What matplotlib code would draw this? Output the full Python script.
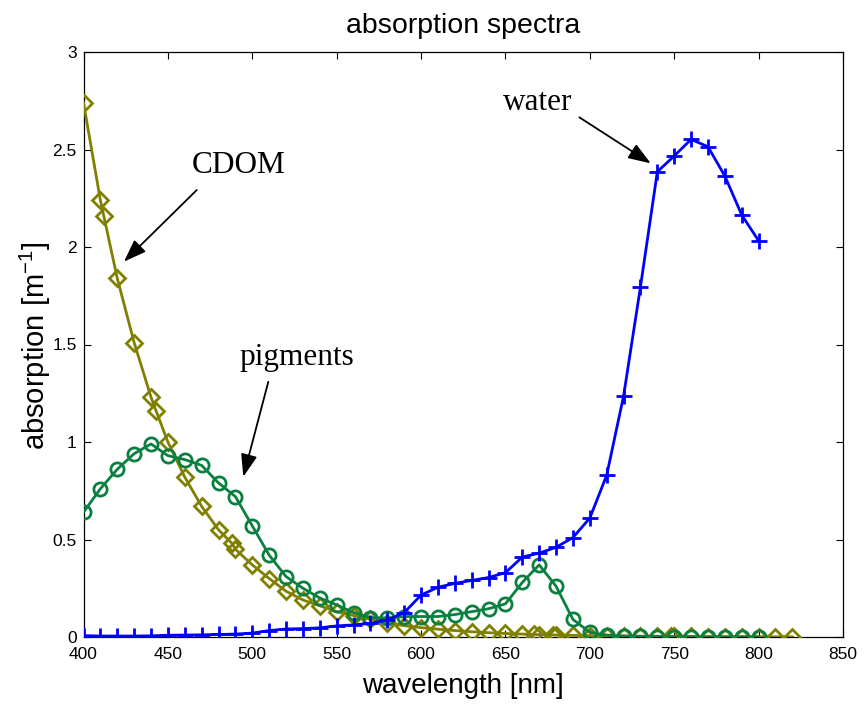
import matplotlib
matplotlib.use("Agg")
import matplotlib.pyplot as plt
import numpy as np

# ---------------- data ----------------
water_x = list(range(400, 801, 10))
water_y = [0.007, 0.005, 0.005, 0.005, 0.006, 0.009, 0.010, 0.011, 0.013, 0.015,
           0.020, 0.033, 0.041, 0.043, 0.047, 0.057, 0.062, 0.070, 0.087, 0.125,
           0.215, 0.255, 0.275, 0.290, 0.305, 0.330, 0.410, 0.430, 0.460, 0.510,
           0.610, 0.830, 1.236, 1.796, 2.386, 2.467, 2.552, 2.514, 2.364, 2.164,
           2.032]

pig_x = list(range(400, 801, 10))
pig_y = [0.64, 0.76, 0.86, 0.94, 0.99, 0.93, 0.91, 0.88, 0.79, 0.72,
         0.57, 0.42, 0.31, 0.25, 0.20, 0.165, 0.125, 0.10, 0.097, 0.105,
         0.105, 0.105, 0.115, 0.13, 0.145, 0.17, 0.28, 0.37, 0.26, 0.09,
         0.024, 0.01, 0.005, 0.003, 0.002, 0.001, 0.0, 0.0, 0.0, 0.0, 0.0]

cdom_x = [400, 410, 412, 420, 430, 440, 443, 450, 460, 470, 480, 488, 490,
          500, 510, 520, 530, 540, 550, 560, 570, 580, 590, 600, 610, 620,
          630, 640, 650, 660, 667, 670, 678, 680, 690, 700, 710, 720, 730,
          740, 748, 750, 760, 770, 780, 790, 800, 810, 820]
cdom_y = [2.74, 2.24, 2.16, 1.84, 1.51, 1.23, 1.16, 1.00, 0.82, 0.67, 0.55,
          0.48, 0.45, 0.37, 0.30, 0.235, 0.19, 0.16, 0.13, 0.11, 0.09, 0.072,
          0.058, 0.048, 0.040, 0.033, 0.027, 0.022, 0.018, 0.015, 0.013,
          0.012, 0.011, 0.010, 0.008, 0.007, 0.006, 0.005, 0.004, 0.004,
          0.003, 0.003, 0.003, 0.002, 0.002, 0.002, 0.002, 0.001, 0.001]

x_ticks = [400, 450, 500, 550, 600, 650, 700, 750, 800, 850]
y_ticks = [0, 0.5, 1, 1.5, 2, 2.5, 3]
y_ticklabels = ["0", "0.5", "1", "1.5", "2", "2.5", "3"]

title = "absorption spectra"
xlabel = "wavelength [nm]"
ylabel = r"absorption [m$^{\mathregular{-1}}$]"

# ---------------- style ----------------
plt.rcParams['font.family'] = ['Liberation Sans', 'DejaVu Sans']
plt.rcParams['mathtext.default'] = 'regular'

W, H = 866, 704
fig = plt.figure(figsize=(W / 100, H / 100), dpi=100)
left, right, top, bottom = 83.5, 843, 52, 637
ax = fig.add_axes([left / W, 1 - bottom / H, (right - left) / W, (bottom - top) / H])

col_water = '#0000ff'
col_pig = '#0a8040'
col_cdom = '#808000'

ax.plot(cdom_x, cdom_y, color=col_cdom, lw=2.0, marker='D', ms=8,
        mfc='none', mec=col_cdom, mew=2.0, zorder=3)
ax.plot(pig_x, pig_y, color=col_pig, lw=2.0, marker='o', ms=9.5,
        mfc='none', mec=col_pig, mew=2.0, zorder=4)
ax.plot(water_x, water_y, color=col_water, lw=2.0, marker='+', ms=12,
        mec=col_water, mew=2.0, zorder=5)

ax.set_xlim(400, 850)
ax.set_ylim(0, 3)
ax.set_xticks(x_ticks)
ax.set_yticks(y_ticks)
ax.set_yticklabels(y_ticklabels)
ax.tick_params(direction='in', top=True, right=True, length=5, width=0.8,
               labelsize=12.5)
ax.tick_params(axis='x', pad=7)
ax.tick_params(axis='y', pad=5)
for s in ax.spines.values():
    s.set_linewidth(0.9)

fig.text(463 / W, 1 - 33.3 / H, title, ha='center', va='baseline', fontsize=20.5)
fig.text(463 / W, 1 - 693 / H, xlabel, ha='center', va='baseline', fontsize=20)
fig.text(35 / W, 1 - 346 / H, ylabel, ha='center', va='center',
         rotation=90, fontsize=21)

# ---------------- annotations ----------------
serif = ['Liberation Serif', 'DejaVu Serif']
arr = dict(arrowstyle='-|>,head_length=0.55,head_width=0.2', color='k', lw=1.3,
           mutation_scale=25, shrinkA=0, shrinkB=0)
ax.annotate('', xy=(424.0, 1.925), xytext=(467.1, 2.292), arrowprops=arr)
ax.annotate('', xy=(494.7, 0.822), xytext=(509.5, 1.309), arrowprops=arr)
ax.annotate('', xy=(736.1, 2.429), xytext=(693.8, 2.665), arrowprops=arr)
ax.text(492.1, 2.378, 'CDOM', family=serif, fontsize=22.5, ha='center', va='baseline')
ax.text(526.5, 1.395, 'pigments', family=serif, fontsize=22.5, ha='center', va='baseline')
ax.text(669.3, 2.703, 'water', family=serif, fontsize=22.5, ha='center', va='baseline')

fig.savefig('out.png', dpi=100)
